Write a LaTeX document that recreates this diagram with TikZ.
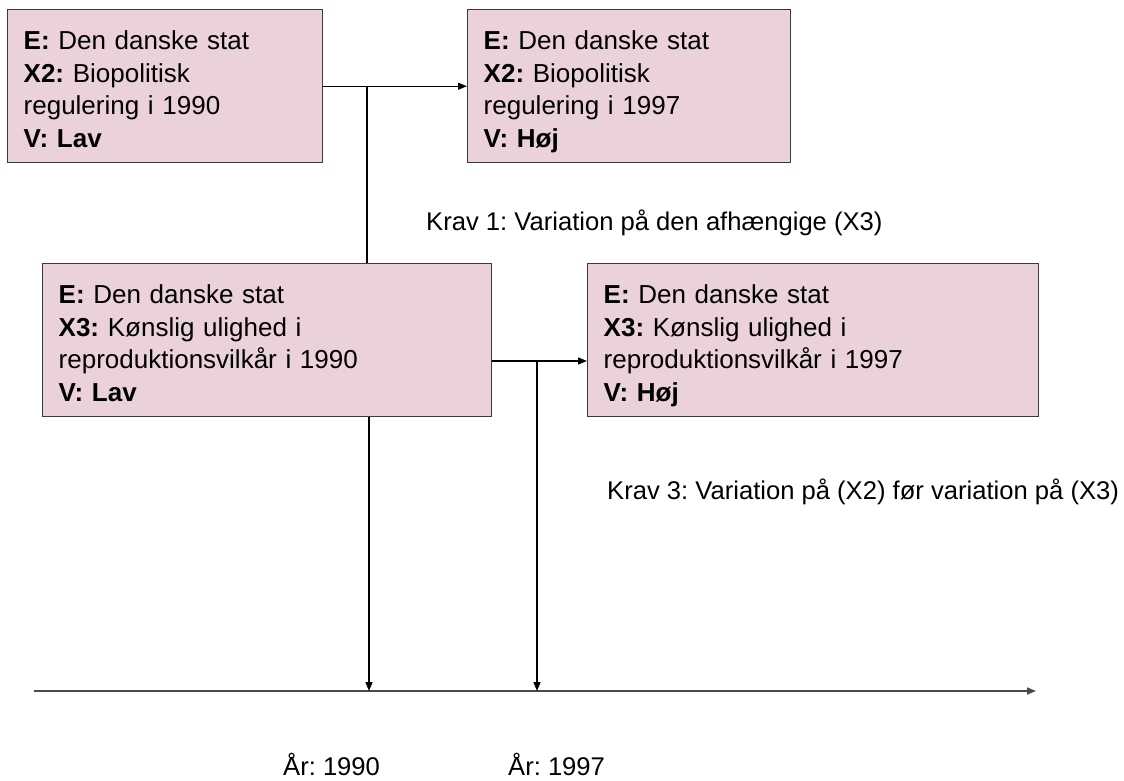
\documentclass[tikz,border=0pt]{standalone}
\usepackage{fontspec}
\setmainfont{Liberation Sans}
\usepackage{tikz}
\usetikzlibrary{arrows.meta}
\definecolor{boxpink}{HTML}{EAD1DC}
\definecolor{boxline}{HTML}{3A3A3A}
\definecolor{axisgray}{HTML}{4A4A4A}
\frenchspacing

\tikzset{
  stat/.style={draw=boxline, fill=boxpink, line width=1.4pt, anchor=north west,
    align=left, inner xsep=16pt, inner ysep=6pt,
    font=\fontsize{26}{32.5}\selectfont},
  krav/.style={anchor=base west, inner sep=0pt, font=\fontsize{25.6}{32}\selectfont},
  >={Triangle[length=9pt,width=7pt]}
}
\newcommand{\firstl}{\rule{0pt}{34pt}}
\newcommand{\lastl}{\rule[-9.5pt]{0pt}{9.5pt}}

\begin{document}
\begin{tikzpicture}[x=1pt,y=-1pt]
  \useasboundingbox (0,0) rectangle (1124,780);
  % boxes
  \node[stat, text width=283pt] (x2a) at (7,9)
    {\firstl\textbf{E:} Den danske stat\\ \textbf{X2:} Biopolitisk\\ regulering i 1990\\ \textbf{V: Lav}\lastl};
  \node[stat, text width=291pt] (x2b) at (467,9)
    {\firstl\textbf{E:} Den danske stat\\ \textbf{X2:} Biopolitisk\\ regulering i 1997\\ \textbf{V: Høj}\lastl};
  \node[stat, text width=417pt] (x3a) at (42,263)
    {\firstl\textbf{E:} Den danske stat\\ \textbf{X3:} Kønslig ulighed i\\ reproduktionsvilkår i 1990\\ \textbf{V: Lav}\lastl};
  \node[stat, text width=419pt] (x3b) at (587,263)
    {\firstl\textbf{E:} Den danske stat\\ \textbf{X3:} Kønslig ulighed i\\ reproduktionsvilkår i 1997\\ \textbf{V: Høj}\lastl};
  % time axis
  \coordinate (ax0) at (34,691);
  \coordinate (ax1) at (1036,691);
  \coordinate (t90) at (369,691);
  \coordinate (t97) at (537,691);
  \coordinate (top) at (367,0);
  \coordinate (row) at (0,361);
  \draw[axisgray, line width=1.6pt, ->] (ax0) -- (ax1);
  % connectors
  \draw[line width=1.2pt, ->] (x2a.east) -- (x2b.west);
  \draw[line width=1.2pt] (x2a.east -| top) -- (x3a.north -| top);
  \draw[line width=1.2pt, ->] (x3a.east |- row) -- (x3b.west |- row);
  \draw[line width=1.2pt, ->] (x3a.south -| t90) -- (t90);
  \draw[line width=1.2pt, ->] (row -| t97) -- (t97);
  % labels
  \node[krav] (krav1) at (426,230) {Krav 1: Variation på den afhængige (X3)};
  \node[krav] (krav3) at (607,499) {Krav 3: Variation på (X2) før variation på (X3)};
  \foreach \x/\yr in {283/1990, 508/1997}
    \node[krav] (aar\yr) at (\x,775) {År: \yr};
\end{tikzpicture}
\end{document}
